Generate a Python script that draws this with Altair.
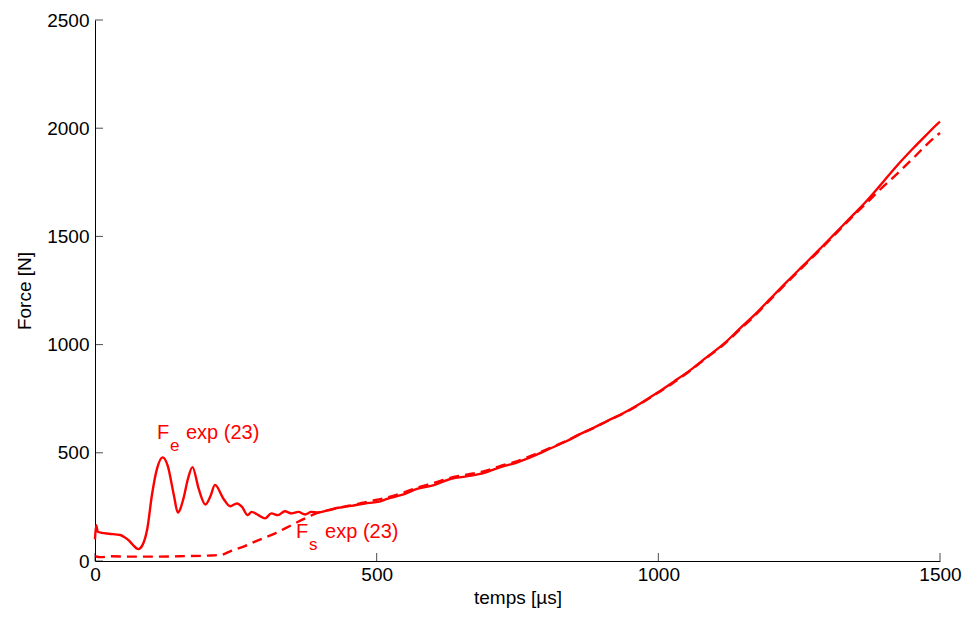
import altair as alt
import pandas as pd

# Fe exp (23) : solid curve
fe_t = [0, 2, 5, 12, 25, 45, 51, 60, 66, 77, 84, 93, 101, 110, 120, 129, 140, 147, 157, 165,
        173, 184, 196, 205, 213, 228, 240, 252, 261, 271, 278, 290, 302, 313, 325, 337, 349, 361,
        373, 384, 396, 414, 432, 455, 479, 502, 520, 543, 573, 603, 632, 662, 691, 720, 750, 780,
        808, 835, 860, 886, 909, 939, 968, 998, 1028, 1056, 1086, 1116, 1145, 1173, 1198, 1228,
        1257, 1286, 1316, 1348, 1370, 1392, 1422, 1452, 1475, 1496, 1500]
fe_f = [100, 165, 135, 130, 126, 120, 112, 95, 78, 55, 72, 151, 304, 426, 479, 441, 304, 224, 288, 380,
        434, 334, 261, 300, 352, 288, 253, 266, 250, 212, 227, 212, 197, 220, 212, 230, 220, 227,
        215, 227, 224, 235, 246, 255, 266, 273, 288, 304, 334, 352, 380, 392, 407, 434, 456, 487,
        520, 551, 585, 617, 647, 685, 728, 777, 830, 881, 942, 1003, 1075, 1143, 1210, 1290,
        1365, 1440, 1520, 1605, 1665, 1730, 1822, 1906, 1967, 2021, 2030]

# Fs exp (23) : dashed curve
fs_t = [0, 10, 30, 60, 100, 150, 200, 225, 240, 265, 284, 320, 349, 373, 395, 420, 440, 460, 485, 510,
        543, 573, 603, 632, 662, 691, 720, 750, 780, 808, 835, 860, 886, 909, 939, 968, 998, 1028,
        1056, 1086, 1116, 1145, 1173, 1198, 1228, 1257, 1286, 1316, 1348, 1370, 1392, 1420, 1455,
        1475, 1496, 1500]
fs_f = [22, 18, 22, 20, 20, 22, 25, 29, 45, 68, 90, 128, 166, 197, 222, 238, 250, 260, 275, 288,
        312, 340, 362, 385, 400, 415, 440, 462, 492, 523, 553, 585, 615, 646, 683, 726, 775, 826,
        878, 940, 1000, 1070, 1138, 1205, 1285, 1360, 1435, 1515, 1600, 1655, 1712, 1780, 1868,
        1921, 1970, 1978]

x_ticks = [0, 500, 1000, 1500]
y_ticks = [0, 500, 1000, 1500, 2000, 2500]

# curve annotations
label_t = [110, 357]
label_f = [563, 105]
label_main = ["F", "F"]
label_sub = ["e", "s"]
label_rest = ["exp (23)", "exp (23)"]

assert len(fe_t) == len(fe_f) and len(fs_t) == len(fs_f)

W, H = 845, 541
RED = "#ff0000"
FONT = "Liberation Sans"

xs = alt.Scale(domain=[0, 1500], nice=False, zero=False)
ys = alt.Scale(domain=[0, 2500], nice=False)

x_axis = alt.Axis(values=x_ticks, ticks=False, grid=False, labelFontSize=19, labelPadding=4,
                  labelFlush=False, labelOverlap=False, title="temps [µs]", titleFontSize=19,
                  titleFontWeight="normal", titlePadding=4, domainColor="black", domainWidth=1,
                  labelColor="black", titleColor="black", format="d")
y_axis = alt.Axis(values=y_ticks, ticks=False, grid=False, labelFontSize=19, labelPadding=6,
                  labelOverlap=False, title="Force [N]", titleFontSize=19, titleFontWeight="normal",
                  titlePadding=12, domainColor="black", domainWidth=1, labelColor="black",
                  titleColor="black", format="d")

X = alt.X("t:Q", scale=xs, axis=x_axis)
Y = alt.Y("f:Q", scale=ys, axis=y_axis)

fe = pd.DataFrame({"t": fe_t, "f": fe_f})
fs = pd.DataFrame({"t": fs_t, "f": fs_f})

fe_line = alt.Chart(fe).mark_line(color=RED, strokeWidth=2.4, interpolate="monotone").encode(x=X, y=Y)
fs_line = alt.Chart(fs).mark_line(color=RED, strokeWidth=2.4, strokeDash=[10, 6],
                                  interpolate="monotone").encode(x=X, y=Y)

xt = alt.Chart(pd.DataFrame({"t": x_ticks})).mark_tick(
    orient="vertical", size=8, thickness=1, color="black").encode(x=X, y=alt.value(H - 4))
yt = alt.Chart(pd.DataFrame({"f": y_ticks})).mark_tick(
    orient="horizontal", size=8, thickness=1, color="black").encode(y=Y, x=alt.value(4))

lab = pd.DataFrame({"t": label_t, "f": label_f, "m": label_main, "s": label_sub, "r": label_rest})
base = alt.Chart(lab).encode(x=X, y=Y)
t_main = base.mark_text(align="left", baseline="alphabetic", fontSize=20, color=RED, font=FONT).encode(text="m:N")
t_sub = base.mark_text(align="left", baseline="alphabetic", fontSize=17, color=RED, font=FONT,
                       dx=13, dy=12).encode(text="s:N")
t_rest = base.mark_text(align="left", baseline="alphabetic", fontSize=20, color=RED, font=FONT,
                        dx=29).encode(text="r:N")

chart = alt.layer(fe_line, fs_line, xt, yt, t_main, t_sub, t_rest).properties(
    width=W, height=H,
    autosize=alt.AutoSizeParams(type="none"),
    padding={"left": 87, "top": 12, "right": 23, "bottom": 49},
).configure(font=FONT).configure_view(stroke=None)

chart.save("out.html", embed_options={"renderer": "svg", "actions": False})
